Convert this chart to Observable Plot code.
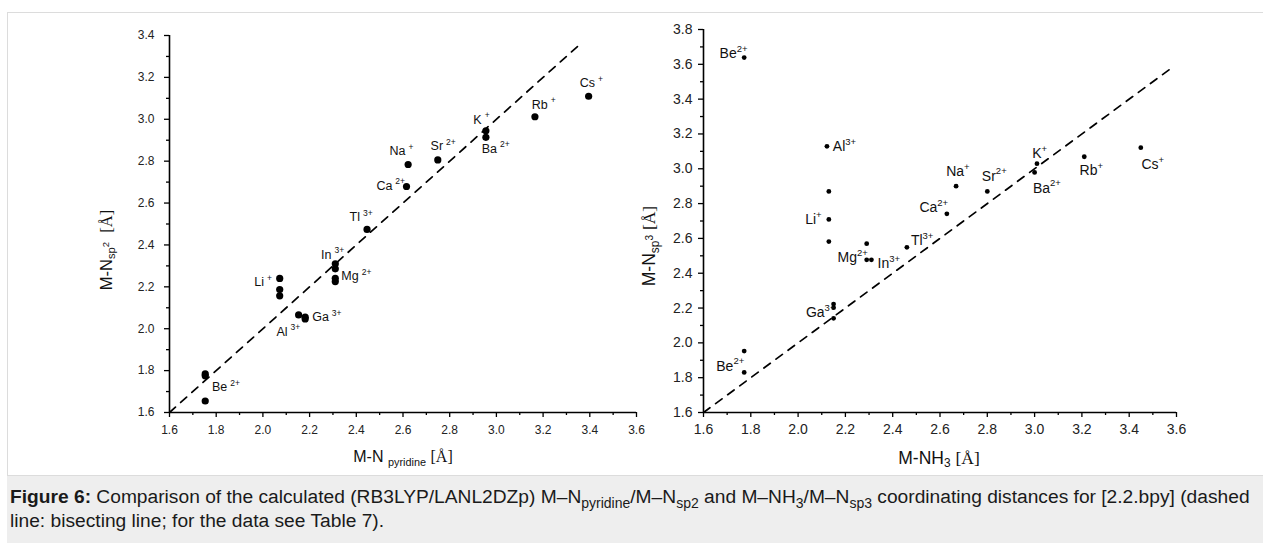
<!DOCTYPE html>
<html>
<head>
<meta charset="utf-8">
<script src="https://cdn.jsdelivr.net/npm/d3@7"></script>
<script src="https://cdn.jsdelivr.net/npm/@observablehq/plot@0.6"></script>
<style>
  html, body { margin: 0; padding: 0; background: #fff; width: 1263px; height: 543px; overflow: hidden; font-family: "Liberation Sans", Arial, sans-serif; }
  #panel { position: absolute; left: 7px; top: 12px; width: 1262px; height: 464px; border: 1px solid #dcdcdc; background: #fff; box-sizing: border-box; }
  #left, #right { position: absolute; top: 0; }
  #left { left: 0; }
  #right { left: 660px; }
  .ttl { position: absolute; color: #111; white-space: nowrap; transform: translate(-50%, -50%); }
  .ttl.rot { transform: translate(-50%, -50%) rotate(-90deg); }
  .ttl .ang { font-family: "Liberation Serif", "Times New Roman", serif; }
  .ttl sub { font-size: 0.68em; vertical-align: -0.3em; }
  .ttl sub sup { font-size: 0.85em; vertical-align: 0.6em; }
  #cap { position: absolute; left: 7px; top: 476px; width: 1256px; height: 67px; background: #eeeeee; box-sizing: border-box; padding: 9px 0 0 3px; font-size: 19.2px; line-height: 24px; color: #1a1a1a; white-space: nowrap; }
  #cap sub { font-size: 14px; line-height: 0; }
</style>
</head>
<body>
<div id="panel"></div>
<div id="left"></div>
<div id="right"></div>
<div class="ttl rot" style="left:107px; top:250px; font-size:16.5px;">M-N<sub>sp<sup>2</sup></sub>&nbsp; <span class="ang">[Å]</span></div>
<div class="ttl" style="left:403px; top:458px; font-size:16px;">M-N <sub>pyridine</sub> <span class="ang">[Å]</span></div>
<div class="ttl rot" style="left:650px; top:246px; font-size:17.5px;">M-N<sub>sp<sup>3</sup></sub> <span class="ang">[Å]</span></div>
<div class="ttl" style="left:939px; top:459px; font-size:17.5px;">M-NH<sub>3</sub> <span class="ang">[Å]</span></div>
<div id="cap"><b>Figure 6:</b> Comparison of the calculated (RB3LYP/LANL2DZp) M–N<sub>pyridine</sub>/M–N<sub>sp2</sub> and M–NH<sub>3</sub>/M–N<sub>sp3</sub> coordinating distances for [2.2.bpy] (dashed<br>line: bisecting line; for the data see Table 7).</div>
<script>
// ---------- DATA ----------
// tick labels
const xTicks = [1.6, 1.8, 2.0, 2.2, 2.4, 2.6, 2.8, 3.0, 3.2, 3.4, 3.6];
const yTicksLeft = [1.6, 1.8, 2.0, 2.2, 2.4, 2.6, 2.8, 3.0, 3.2, 3.4];
const yTicksRight = [1.6, 1.8, 2.0, 2.2, 2.4, 2.6, 2.8, 3.0, 3.2, 3.4, 3.6, 3.8];

// left panel: M–N(pyridine) vs M–N(sp2)
const leftIon = ["Cs","Rb","K","Ba","Sr","Na","Ca","Tl","In","In","Mg","Mg","Li","Li","Li","Al","Ga","Ga","Be","Be","Be"];
const leftX = [3.395,3.165,2.955,2.955,2.749,2.622,2.615,2.446,2.31,2.31,2.31,2.31,2.072,2.072,2.072,2.153,2.181,2.181,1.753,1.753,1.753];
const leftY = [3.11,3.012,2.945,2.914,2.806,2.784,2.679,2.474,2.31,2.286,2.241,2.225,2.24,2.187,2.157,2.066,2.055,2.047,1.784,1.775,1.655];
const leftBisect = [1.6, 3.35];

// left panel ion labels (anchor in data units)
const leftLabName = ["Cs","Rb","K","Ba","Sr","Na","Ca","Tl","In","Mg","Li","Al","Ga","Be"];
const leftLabCharge = ["+","+","+","2+","2+","+","2+","3+","3+","2+","+","3+","3+","2+"];
const leftLabX = [3.357,3.151,2.901,2.937,2.718,2.542,2.486,2.371,2.249,2.336,1.963,2.058,2.211,1.782];
const leftLabY = [3.171,3.07,2.997,2.859,2.871,2.847,2.682,2.532,2.354,2.25,2.222,1.986,2.055,1.72];

// right panel: M–NH3 vs M–N(sp3)
const rightIon = ["Be","Al","Li","Li","Li","Mg","Mg","In","Tl","Ca","Na","Sr","K","Ba","Rb","Cs","Ga","Ga","Ga","Be","Be"];
const rightX = [1.772,2.122,2.13,2.13,2.13,2.29,2.29,2.31,2.46,2.629,2.668,2.80,3.01,3.00,3.21,3.449,2.15,2.15,2.15,1.772,1.772];
const rightY = [3.639,3.129,2.870,2.709,2.582,2.570,2.477,2.477,2.549,2.741,2.90,2.870,3.029,2.979,3.069,3.121,2.223,2.202,2.141,1.953,1.830];
const rightBisect = [1.6, 3.57];

const rightLabName = ["Be","Al","Li","Mg","In","Tl","Ca","Na","Sr","K","Ba","Rb","Cs","Ga","Be"];
const rightLabCharge = ["2+","3+","+","2+","3+","3+","2+","+","2+","+","2+","+","+","3+","2+"];
const rightLabX = [1.668,2.147,2.03,2.167,2.336,2.477,2.513,2.626,2.777,2.99,2.993,3.19,3.452,2.033,1.654];
const rightLabY = [3.662,3.129,2.709,2.49,2.455,2.588,2.778,2.985,2.958,3.087,2.889,2.99,3.023,2.172,1.867];

// ---------- BUILD ----------
const zip = (xs, ys, extra) => xs.map((x, i) => ({x, y: ys[i], ...(extra ? extra(i) : {})}));
const fmt = d => d.toFixed(1);
const minorOf = ticks => d3.range(ticks.length - 1).map(i => (ticks[i] + ticks[i + 1]) / 2);

function chart({width, height, mL, mR, mT, mB, yDomain, yTicks, pts, labs, bis, r, yPad, xPad, tickFont, labFont, supFont, supDx}) {
  const svg = Plot.plot({
    width, height,
    marginLeft: mL, marginRight: mR, marginTop: mT, marginBottom: mB,
    x: {domain: [1.6, 3.6]},
    y: {domain: yDomain},
    style: {background: "transparent", fontFamily: "'Liberation Sans', Arial, sans-serif", fontSize: tickFont + "px", color: "#000", overflow: "visible"},
    marks: [
      Plot.line(bis, {x: d => d, y: d => d, stroke: "#000", strokeWidth: 1.7, strokeDasharray: "8,7"}),
      Plot.axisX(xTicks, {tickSize: 5, tickPadding: xPad, fontSize: tickFont, fill: "#222", tickFormat: fmt, label: null, strokeWidth: 1.3}),
      Plot.axisX(minorOf(xTicks), {tickSize: 3, text: null, label: null, strokeWidth: 1.3}),
      Plot.axisY(yTicks, {tickSize: 5, tickPadding: yPad, fontSize: tickFont, fill: "#222", tickFormat: fmt, label: null, strokeWidth: 1.3}),
      Plot.axisY(minorOf(yTicks), {tickSize: 3, text: null, label: null, strokeWidth: 1.3}),
      Plot.ruleY([1.6], {stroke: "#000", strokeWidth: 1.6}),
      Plot.ruleX([1.6], {stroke: "#000", strokeWidth: 1.6}),
      Plot.dot(pts, {x: "x", y: "y", r, fill: "#000", stroke: null}),
      Plot.text(labs, {x: "x", y: "y", text: d => d.name + "^" + d.charge, textAnchor: "start", fontSize: labFont, fill: "#111"})
    ]
  });
  const ns = "http://www.w3.org/2000/svg";
  svg.querySelectorAll("text").forEach(t => {
    if (!t.textContent.includes("^")) return;
    const [a, b] = t.textContent.split("^");
    t.textContent = a;
    const ts = document.createElementNS(ns, "tspan");
    ts.setAttribute("dx", supDx);
    ts.setAttribute("dy", "-0.65em");
    ts.setAttribute("font-size", supFont);
    ts.textContent = b;
    t.appendChild(ts);
  });
  return svg;
}

const leftSvg = chart({
  width: 660, height: 476, mL: 169, mR: 24, mT: 35, mB: 64,
  yDomain: [1.6, 3.4], yTicks: yTicksLeft,
  pts: zip(leftX, leftY, i => ({ion: leftIon[i]})),
  labs: zip(leftLabX, leftLabY, i => ({name: leftLabName[i], charge: leftLabCharge[i]})),
  bis: leftBisect, r: 3.6, yPad: 10, xPad: 8, tickFont: 12, labFont: 12.5, supFont: 8.5, supDx: 3
});
document.getElementById("left").appendChild(leftSvg);

const rightSvg = chart({
  width: 603, height: 476, mL: 43, mR: 87, mT: 29, mB: 64,
  yDomain: [1.6, 3.8], yTicks: yTicksRight,
  pts: zip(rightX, rightY, i => ({ion: rightIon[i]})),
  labs: zip(rightLabX, rightLabY, i => ({name: rightLabName[i], charge: rightLabCharge[i]})),
  bis: rightBisect, r: 2.4, yPad: 6, xPad: 7, tickFont: 14, labFont: 14, supFont: 9.5, supDx: 0
});
document.getElementById("right").appendChild(rightSvg);
</script>
</body>
</html>
